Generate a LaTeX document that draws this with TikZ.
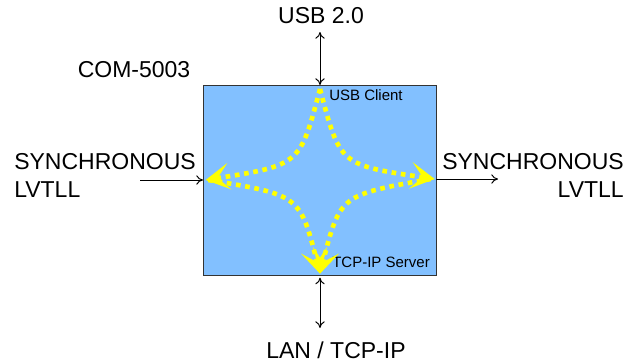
\documentclass[tikz,border=0pt]{standalone}
\usepackage{fontspec}
\setmainfont{Liberation Sans}
\usetikzlibrary{arrows.meta}
\begin{document}
\begin{tikzpicture}[x=0.75pt,y=-0.75pt,>={To[length=5pt,width=7pt]},
  grand/.style={font=\fontsize{17.25}{21}\selectfont,inner sep=0pt},
  petit/.style={font=\fontsize{11.25}{13}\selectfont,inner sep=0pt,anchor=west},
  fleche/.style={<->,line width=0.75pt},
  flux/.style={draw=jaune,line width=3.5pt,dash pattern=on 3.5pt off 3.5pt,
    -{Stealth[length=18pt,width=20pt,inset=9pt,fill=jaune]}}]
\definecolor{bleu}{HTML}{82C0FF}
\definecolor{jaune}{HTML}{FFFF00}
\useasboundingbox (0,0) rectangle (638,362);

\filldraw[fill=bleu,draw=black!80,line width=0.75pt] (203,85) rectangle (436,275); %la carte
\node[grand] (com) at (134,70) {COM-5003};
\node[petit] (client) at (329,95) {USB Client};
\node[petit] (serveur) at (332,262) {TCP-IP Server};

\coordinate (haut) at (320,85);
\coordinate (bas) at (320,275);
\coordinate (gauche) at (203,180);
\coordinate (droite) at (436,179);

\node[grand] (usb) at (321,16) {USB 2.0};
\node[grand] (lan) at (336,350) {LAN / TCP-IP};
\node[grand,anchor=west,align=left] (syncg) at (14,175) {SYNCHRONOUS\\LVTLL};
\node[grand,anchor=west,align=right] (syncd) at (442,175) {SYNCHRONOUS\\LVTLL};

%les flux internes
\draw[flux] ([yshift=-3pt]haut) .. controls (300,165) .. ([xshift=2pt]gauche);
\draw[flux] ([yshift=-3pt]haut) .. controls (340,165) .. ([xshift=-1pt]droite);
\draw[flux] ([xshift=4pt]gauche) .. controls (300,195) .. ([yshift=1pt]bas);
\draw[flux] ([xshift=-4pt]droite) .. controls (340,195) .. ([yshift=1pt]bas);

%les liaisons externes
\coordinate (usbfin) at (320,32);
\coordinate (lanfin) at (320,328);
\coordinate (gfin) at (140,180);
\coordinate (dfin) at (498,179);
\draw[fleche] (usbfin) -- (haut);
\draw[fleche] ([yshift=-2pt]bas) -- (lanfin);
\draw[->,line width=0.75pt] (gfin) -- (gauche);
\draw[->,line width=0.75pt] (droite) -- (dfin);
\end{tikzpicture}
\end{document}
